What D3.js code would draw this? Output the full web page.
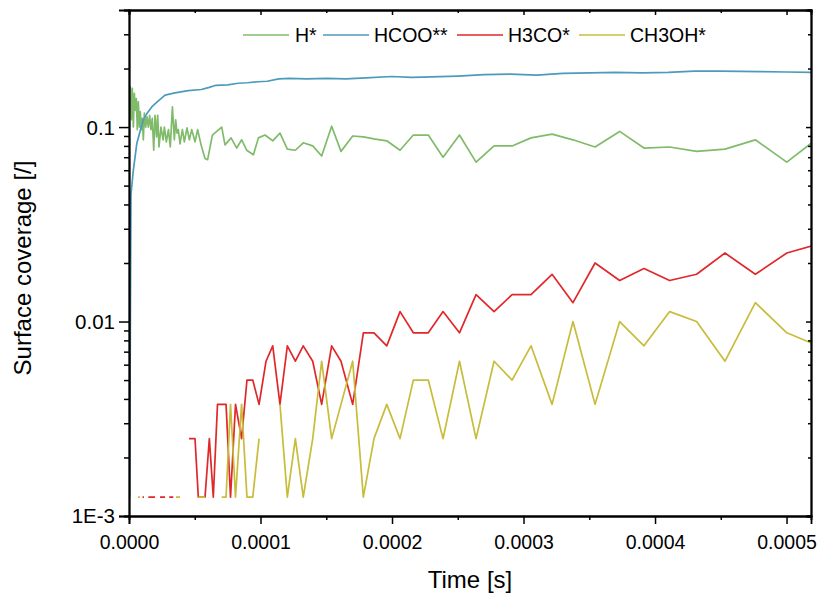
<!DOCTYPE html>
<html>
<head>
<meta charset="utf-8">
<script src="https://cdn.jsdelivr.net/npm/d3@7"></script>
<style>
    body { margin: 0; background: #fff; }
    svg { display: block; font-family: "Liberation Sans", Arial, sans-serif; }
</style>
</head>
<body>
<div id="chart"></div>
<script>
// time in microseconds, coverage as fraction of sites

var speciesNames = ["H*", "HCOO**", "H3CO*", "CH3OH*"];
var speciesColors = ["#7fbb6a", "#4c9bbd", "#e0282b", "#c8bc3b"];

var hStar = [
    [0, 0.03], [0.25, 0.122], [1.0, 0.161], [1.77, 0.109], [2.53, 0.158], [3.3, 0.100], [4.06, 0.149],
    [4.8, 0.122], [5.6, 0.140], [6.3, 0.097], [7.1, 0.135], [7.9, 0.100], [8.6, 0.120], [9.4, 0.097],
    [10.1, 0.111], [10.9, 0.086], [11.7, 0.118], [12.7, 0.100], [13.7, 0.113], [14.7, 0.100],
    [15.7, 0.115], [16.7, 0.097], [17.7, 0.111], [18.8, 0.076], [19.8, 0.115], [21.0, 0.089],
    [21.8, 0.115], [22.8, 0.079], [24.3, 0.100], [25.9, 0.086], [26.9, 0.100], [28.4, 0.084],
    [30.0, 0.097], [31.4, 0.079], [33.0, 0.127], [34.5, 0.086], [35.5, 0.109], [36.5, 0.093],
    [37.5, 0.097], [38.8, 0.082], [40.6, 0.097], [42.1, 0.084], [44.1, 0.099], [45.9, 0.086],
    [47.7, 0.097], [50.2, 0.084], [52.2, 0.097], [54.8, 0.081], [57.8, 0.069], [59.8, 0.068],
    [63.4, 0.091], [66.7, 0.095], [70.5, 0.100], [73.0, 0.081], [77.6, 0.088], [81.9, 0.078],
    [85.7, 0.086], [89.5, 0.076], [94.6, 0.072], [98.4, 0.088], [103.4, 0.091], [109.3, 0.085],
    [114.8, 0.093], [120.4, 0.077], [126.5, 0.076], [132.5, 0.083], [139.7, 0.080], [146.5, 0.071],
    [154.1, 0.101], [161.2, 0.075], [170.1, 0.090], [178.2, 0.089], [186.3, 0.087], [196.0, 0.085],
    [206.1, 0.076], [216.2, 0.091], [227.6, 0.091], [238.8, 0.070], [251.3, 0.091], [263.9, 0.066],
    [277.6, 0.080], [291.3, 0.080], [305.7, 0.088], [321.7, 0.092], [337.6, 0.086], [354.4, 0.079],
    [373.1, 0.095], [391.6, 0.078], [411.1, 0.079], [431.6, 0.075], [453.2, 0.077], [476.3, 0.086],
    [500.2, 0.066], [524.0, 0.088]
];

var hcooStar = [
    [0.4, 0.00125], [1.5, 0.045], [3.3, 0.060], [4.6, 0.070], [5.9, 0.082], [8.4, 0.095],
    [10.9, 0.109], [13.5, 0.117], [17.3, 0.127], [21, 0.134], [27.4, 0.146], [35, 0.150],
    [45, 0.154], [55, 0.156], [61, 0.160], [66, 0.164], [75, 0.165], [83, 0.168], [90, 0.169],
    [98, 0.171], [105, 0.172], [114, 0.177], [122, 0.178], [135, 0.177], [150, 0.178], [165, 0.177],
    [180, 0.179], [200, 0.182], [215, 0.180], [230, 0.181], [250, 0.183], [270, 0.186], [290, 0.187],
    [310, 0.185], [330, 0.189], [350, 0.190], [370, 0.191], [390, 0.190], [410, 0.191], [430, 0.194],
    [450, 0.194], [480, 0.193], [500, 0.192], [525, 0.191]
];

// null = no coverage (gap on the log axis)
var h3coStar = [
    [10.3, 0.00125], [11.4, 0.00125], [12.5, null], [14.7, 0.00125], [19.8, 0.00125], [21.5, null],
    [23.6, 0.00125], [27.4, 0.00125], [29, null], [30.6, 0.00125], [33.7, 0.00125], [35, null],
    [45.6, 0.0025], [50.2, 0.0025], [52.7, 0.00125], [57.8, 0.00125], [61.1, 0.0025], [64.1, 0.00125],
    [67.3, 0.00375], [70.5, 0.00375], [73.8, 0.00375], [77.2, 0.00125], [81.0, 0.00375], [85.6, 0.0025],
    [89.7, 0.005], [94.1, 0.005], [98.9, 0.00375], [104.2, 0.00625], [109.3, 0.0075], [114.8, 0.00375],
    [120.4, 0.0075], [126.5, 0.00625], [132.5, 0.0075], [139.7, 0.00625], [146.5, 0.00375],
    [154.1, 0.0075], [161.2, 0.00625], [170.1, 0.00375], [178.2, 0.00875], [186.3, 0.00875],
    [196.0, 0.0075], [206.1, 0.01125], [216.2, 0.00875], [227.6, 0.00875], [238.8, 0.01125],
    [251.3, 0.00875], [263.9, 0.01375], [277.6, 0.01125], [291.3, 0.01375], [305.7, 0.01375],
    [321.7, 0.0175], [337.6, 0.0125], [354.4, 0.02], [373.1, 0.01625], [391.6, 0.01875],
    [411.1, 0.01625], [431.6, 0.0175], [453.2, 0.0225], [476.3, 0.0175], [500.2, 0.0225], [524.0, 0.025]
];

var ch3ohStar = [
    [6.8, 0.00125], [8.4, 0.00125], [9.5, null], [35.7, 0.00125], [38.8, 0.00125], [40, null],
    [51, null], [52.7, 0.00125], [57.8, 0.00125], [59, null], [69, null], [70.5, 0.00125],
    [73.8, 0.00125], [77.2, 0.00375], [81.0, 0.00125], [85.6, 0.00375], [89.7, 0.00125],
    [94.1, 0.00125], [98.9, 0.0025], [104.2, null], [109.3, null], [114.8, 0.00375], [120.4, 0.00125],
    [126.5, 0.0025], [132.5, 0.00125], [139.7, 0.0025], [146.5, 0.00625], [154.1, 0.0025],
    [161.2, 0.00375], [170.1, 0.00625], [178.2, 0.00125], [186.3, 0.0025], [196.0, 0.00375],
    [206.1, 0.0025], [216.2, 0.005], [227.6, 0.005], [238.8, 0.0025], [251.3, 0.00625],
    [263.9, 0.0025], [277.6, 0.00625], [291.3, 0.005], [305.7, 0.0075], [321.7, 0.00375],
    [337.6, 0.01], [354.4, 0.00375], [373.1, 0.01], [391.6, 0.0075], [411.1, 0.01125], [431.6, 0.01],
    [453.2, 0.00625], [476.3, 0.0125], [500.2, 0.00875], [524.0, 0.0075]
];

var xTickValues = [0, 0.0001, 0.0002, 0.0003, 0.0004, 0.0005];
var xMinorValues = [0.00005, 0.00015, 0.00025, 0.00035, 0.00045];
var yTickValues = [0.001, 0.01, 0.1];
var yTickLabels = ["1E-3", "0.01", "0.1"];

(function () {
    var width = 819,
        height = 599,
        margin = {top: 10, right: 8, bottom: 83, left: 129};

    var x = d3.scaleLinear()
        .domain([0, 0.0005186])
        .range([margin.left, width - margin.right]);

    var y = d3.scaleLog()
        .domain([0.001, 0.4])
        .range([height - margin.bottom, margin.top]);

    var yMinor = [];
    [0.001, 0.01, 0.1].forEach(function (dec) {
        for (var k = 2; k <= 9; k++) {
            if (dec * k <= 0.4) yMinor.push(dec * k);
        }
    });

    var svg = d3.select("#chart").append("svg")
        .attr("width", width)
        .attr("height", height);

    svg.append("clipPath").attr("id", "plotclip")
        .append("rect")
        .attr("x", margin.left).attr("y", margin.top)
        .attr("width", width - margin.left - margin.right)
        .attr("height", height - margin.top - margin.bottom);

    var line = d3.line()
        .defined(d => d[1] !== null)
        .x(d => x(d[0] * 1e-6))
        .y(d => y(d[1]));

    var series = [hStar, hcooStar, h3coStar, ch3ohStar];

    var plot = svg.append("g").attr("clip-path", "url(#plotclip)");
    series.forEach(function (s, i) {
        plot.append("path")
            .datum(s)
            .attr("fill", "none")
            .attr("stroke", speciesColors[i])
            .attr("stroke-width", 1.7)
            .attr("stroke-linejoin", "round")
            .attr("d", line);
    });

    var bottomY = height - margin.bottom;

    // bottom axis
    svg.append("g").attr("class", "xlab").attr("transform", `translate(0,${bottomY})`)
        .call(d3.axisBottom(x).tickValues(xTickValues).tickSize(8).tickPadding(11)
            .tickFormat(d3.format(".4f")));
    svg.append("g").attr("transform", `translate(0,${bottomY})`)
        .call(d3.axisBottom(x).tickValues(xMinorValues).tickSize(4).tickFormat(""));

    // top mirror
    svg.append("g").attr("transform", `translate(0,${margin.top})`)
        .call(d3.axisBottom(x).tickValues(xTickValues).tickSize(5).tickFormat(""));
    svg.append("g").attr("transform", `translate(0,${margin.top})`)
        .call(d3.axisBottom(x).tickValues(xMinorValues).tickSize(3).tickFormat(""));

    // left axis
    svg.append("g").attr("class", "ylab").attr("transform", `translate(${margin.left},0)`)
        .call(d3.axisLeft(y).tickValues(yTickValues).tickSize(10).tickPadding(4)
            .tickFormat((d, i) => yTickLabels[i]));
    svg.append("g").attr("transform", `translate(${margin.left},0)`)
        .call(d3.axisLeft(y).tickValues(yMinor).tickSize(5).tickFormat(""));

    // right mirror
    svg.append("g").attr("transform", `translate(${width - margin.right},0)`)
        .call(d3.axisLeft(y).tickValues(yTickValues).tickSize(5).tickFormat(""));
    svg.append("g").attr("transform", `translate(${width - margin.right},0)`)
        .call(d3.axisLeft(y).tickValues(yMinor).tickSize(3).tickFormat(""));

    svg.selectAll(".domain").attr("stroke", "#000").attr("stroke-width", 1.8);
    svg.selectAll(".tick line").attr("stroke", "#000").attr("stroke-width", 1.5);
    svg.selectAll(".tick text")
        .attr("font-family", "Liberation Sans, Arial, sans-serif")
        .attr("fill", "#000");
    svg.selectAll(".xlab .tick text").attr("font-size", 19.5);
    svg.selectAll(".ylab .tick text").attr("font-size", 20.5).attr("dy", "0.34em");

    // axis titles
    svg.append("text")
        .attr("x", (margin.left + width - margin.right) / 2)
        .attr("y", 588)
        .attr("text-anchor", "middle")
        .attr("font-size", 24)
        .text("Time [s]");

    svg.append("text")
        .attr("transform", `translate(31,${(margin.top + bottomY) / 2 + 5}) rotate(-90)`)
        .attr("text-anchor", "middle")
        .attr("font-size", 24)
        .text("Surface coverage [/]");

    // legend
    var legendX = [243, 323, 457, 579];
    var legendTextX = [295, 374, 508, 630];
    var legend = svg.append("g").attr("transform", "translate(0,35)");
    speciesNames.forEach(function (name, i) {
        legend.append("line")
            .attr("x1", legendX[i]).attr("x2", legendX[i] + 46)
            .attr("y1", 0).attr("y2", 0)
            .attr("stroke", speciesColors[i])
            .attr("stroke-width", 1.7);
        legend.append("text")
            .attr("x", legendTextX[i])
            .attr("y", 7)
            .attr("font-size", 19.5)
            .text(name);
    });
})();
</script>
</body>
</html>
